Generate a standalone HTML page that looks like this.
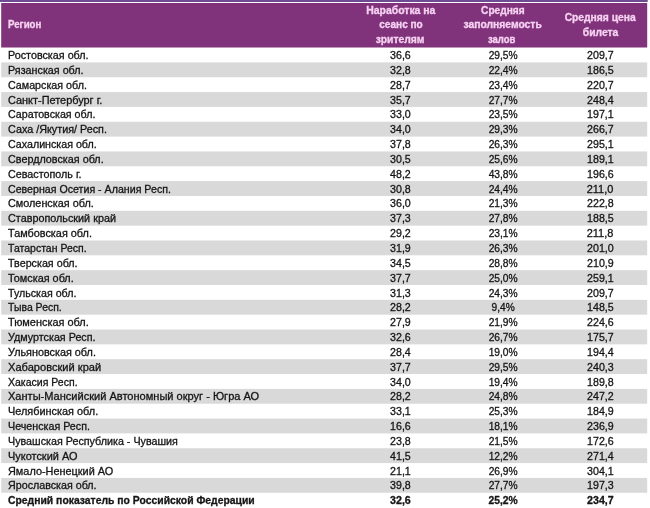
<!DOCTYPE html>
<html lang="ru"><head><meta charset="utf-8"><title>Таблица</title>
<style>
html,body{margin:0;padding:0;background:#fff;}
body{width:650px;height:508px;position:relative;overflow:hidden;font-family:"Liberation Sans",sans-serif;font-size:10.7px;line-height:14.84px;color:#151515;}
svg{position:absolute;left:0;top:0;}
span{position:absolute;white-space:pre;display:block;-webkit-text-stroke:0.3px currentColor;}
.h span{-webkit-text-stroke:0.3px currentColor;font-weight:bold;color:#f6d2f2;font-size:10.2px;}
.b span{font-weight:bold;}
div{filter:blur(0.35px);}
</style></head><body>
<svg width="650" height="508" viewBox="0 0 650 508" shape-rendering="geometricPrecision">
<rect x="0" y="0" width="647.7" height="2" fill="#6f4b93"/>
<rect x="1.2" y="3.0" width="646.0" height="44.5" fill="#80327b"/>
<rect x="1.2" y="62.40" width="646.0" height="14.84" fill="#d9d9d9"/>
<rect x="1.2" y="92.08" width="646.0" height="14.84" fill="#d9d9d9"/>
<rect x="1.2" y="121.76" width="646.0" height="14.84" fill="#d9d9d9"/>
<rect x="1.2" y="151.44" width="646.0" height="14.84" fill="#d9d9d9"/>
<rect x="1.2" y="181.12" width="646.0" height="14.84" fill="#d9d9d9"/>
<rect x="1.2" y="210.80" width="646.0" height="14.84" fill="#d9d9d9"/>
<rect x="1.2" y="240.48" width="646.0" height="14.84" fill="#d9d9d9"/>
<rect x="1.2" y="270.16" width="646.0" height="14.84" fill="#d9d9d9"/>
<rect x="1.2" y="299.84" width="646.0" height="14.84" fill="#d9d9d9"/>
<rect x="1.2" y="329.52" width="646.0" height="14.84" fill="#d9d9d9"/>
<rect x="1.2" y="359.20" width="646.0" height="14.84" fill="#d9d9d9"/>
<rect x="1.2" y="388.88" width="646.0" height="14.84" fill="#d9d9d9"/>
<rect x="1.2" y="418.56" width="646.0" height="14.84" fill="#d9d9d9"/>
<rect x="1.2" y="448.24" width="646.0" height="14.84" fill="#d9d9d9"/>
<rect x="1.2" y="477.92" width="646.0" height="14.84" fill="#d9d9d9"/>
</svg>
<div class="h">
<span style="top:18.39px;left:7.60px;transform:scaleX(0.9507);transform-origin:0 50%">Регион</span>
<span style="top:3.55px;left:366.77px;transform:scaleX(1.0254)">Наработка на</span>
<span style="top:18.39px;left:378.56px;transform:scaleX(0.9886)">сеанс по</span>
<span style="top:33.23px;left:376.49px;transform:scaleX(1.0145)">зрителям</span>
<span style="top:3.55px;left:480.60px;transform:scaleX(0.9951)">Средняя</span>
<span style="top:18.39px;left:463.84px;transform:scaleX(1.0132)">заполняемость</span>
<span style="top:33.23px;left:486.77px;transform:scaleX(0.9336)">залов</span>
<span style="top:10.97px;left:565.19px;transform:scaleX(1.0098)">Средняя цена</span>
<span style="top:25.81px;left:582.84px;transform:scaleX(1.0118)">билета</span>
</div>
<div>
<span style="top:48.06px;left:7.60px;transform:scaleX(1.0077);transform-origin:0 50%">Ростовская обл.</span>
<span style="top:48.06px;left:390.09px;transform:scaleX(0.9944)">36,6</span>
<span style="top:48.06px;left:487.63px;transform:scaleX(0.9583)">29,5%</span>
<span style="top:48.06px;left:586.91px;transform:scaleX(0.9949)">209,7</span>
</div>
<div>
<span style="top:62.90px;left:7.60px;transform:scaleX(1.0068);transform-origin:0 50%">Рязанская обл.</span>
<span style="top:62.90px;left:390.09px;transform:scaleX(0.9944)">32,8</span>
<span style="top:62.90px;left:487.63px;transform:scaleX(0.9583)">22,4%</span>
<span style="top:62.90px;left:586.91px;transform:scaleX(0.9949)">186,5</span>
</div>
<div>
<span style="top:77.74px;left:7.60px;transform:scaleX(1.0015);transform-origin:0 50%">Самарская обл.</span>
<span style="top:77.74px;left:390.09px;transform:scaleX(0.9944)">28,7</span>
<span style="top:77.74px;left:487.63px;transform:scaleX(0.9583)">23,4%</span>
<span style="top:77.74px;left:586.91px;transform:scaleX(0.9949)">220,7</span>
</div>
<div>
<span style="top:92.58px;left:7.60px;transform:scaleX(1.0212);transform-origin:0 50%">Санкт-Петербург г.</span>
<span style="top:92.58px;left:390.09px;transform:scaleX(0.9944)">35,7</span>
<span style="top:92.58px;left:487.63px;transform:scaleX(0.9583)">27,7%</span>
<span style="top:92.58px;left:586.91px;transform:scaleX(0.9949)">248,4</span>
</div>
<div>
<span style="top:107.42px;left:7.60px;transform:scaleX(0.9988);transform-origin:0 50%">Саратовская обл.</span>
<span style="top:107.42px;left:390.09px;transform:scaleX(0.9944)">33,0</span>
<span style="top:107.42px;left:487.63px;transform:scaleX(0.9583)">23,5%</span>
<span style="top:107.42px;left:586.91px;transform:scaleX(0.9949)">197,1</span>
</div>
<div>
<span style="top:122.26px;left:7.60px;transform:scaleX(1.0093);transform-origin:0 50%">Саха /Якутия/ Респ.</span>
<span style="top:122.26px;left:390.09px;transform:scaleX(0.9944)">34,0</span>
<span style="top:122.26px;left:487.63px;transform:scaleX(0.9583)">29,3%</span>
<span style="top:122.26px;left:586.91px;transform:scaleX(0.9949)">266,7</span>
</div>
<div>
<span style="top:137.10px;left:7.60px;transform:scaleX(0.9986);transform-origin:0 50%">Сахалинская обл.</span>
<span style="top:137.10px;left:390.09px;transform:scaleX(0.9944)">37,8</span>
<span style="top:137.10px;left:487.63px;transform:scaleX(0.9583)">26,3%</span>
<span style="top:137.10px;left:586.91px;transform:scaleX(0.9949)">295,1</span>
</div>
<div>
<span style="top:151.94px;left:7.60px;transform:scaleX(1.0095);transform-origin:0 50%">Свердловская обл.</span>
<span style="top:151.94px;left:390.09px;transform:scaleX(0.9944)">30,5</span>
<span style="top:151.94px;left:487.63px;transform:scaleX(0.9583)">25,6%</span>
<span style="top:151.94px;left:586.91px;transform:scaleX(0.9949)">189,1</span>
</div>
<div>
<span style="top:166.78px;left:7.60px;transform:scaleX(1.0063);transform-origin:0 50%">Севастополь г.</span>
<span style="top:166.78px;left:390.09px;transform:scaleX(0.9944)">48,2</span>
<span style="top:166.78px;left:487.63px;transform:scaleX(0.9583)">43,8%</span>
<span style="top:166.78px;left:586.91px;transform:scaleX(0.9949)">196,6</span>
</div>
<div>
<span style="top:181.62px;left:7.60px;transform:scaleX(0.9949);transform-origin:0 50%">Северная Осетия - Алания Респ.</span>
<span style="top:181.62px;left:390.09px;transform:scaleX(0.9944)">30,8</span>
<span style="top:181.62px;left:487.63px;transform:scaleX(0.9583)">24,4%</span>
<span style="top:181.62px;left:587.31px;transform:scaleX(1.0253)">211,0</span>
</div>
<div>
<span style="top:196.46px;left:7.60px;transform:scaleX(1.0132);transform-origin:0 50%">Смоленская обл.</span>
<span style="top:196.46px;left:390.09px;transform:scaleX(0.9944)">36,0</span>
<span style="top:196.46px;left:487.63px;transform:scaleX(0.9583)">21,3%</span>
<span style="top:196.46px;left:586.91px;transform:scaleX(0.9949)">222,8</span>
</div>
<div>
<span style="top:211.30px;left:7.60px;transform:scaleX(1.0109);transform-origin:0 50%">Ставропольский край</span>
<span style="top:211.30px;left:390.09px;transform:scaleX(0.9944)">37,3</span>
<span style="top:211.30px;left:487.63px;transform:scaleX(0.9583)">27,8%</span>
<span style="top:211.30px;left:586.91px;transform:scaleX(0.9949)">188,5</span>
</div>
<div>
<span style="top:226.14px;left:7.60px;transform:scaleX(1.0159);transform-origin:0 50%">Тамбовская обл.</span>
<span style="top:226.14px;left:390.09px;transform:scaleX(0.9944)">29,2</span>
<span style="top:226.14px;left:487.63px;transform:scaleX(0.9583)">23,1%</span>
<span style="top:226.14px;left:587.31px;transform:scaleX(1.0253)">211,8</span>
</div>
<div>
<span style="top:240.98px;left:7.60px;transform:scaleX(0.9824);transform-origin:0 50%">Татарстан Респ.</span>
<span style="top:240.98px;left:390.09px;transform:scaleX(0.9944)">31,9</span>
<span style="top:240.98px;left:487.63px;transform:scaleX(0.9583)">26,3%</span>
<span style="top:240.98px;left:586.91px;transform:scaleX(0.9949)">201,0</span>
</div>
<div>
<span style="top:255.82px;left:7.60px;transform:scaleX(1.0042);transform-origin:0 50%">Тверская обл.</span>
<span style="top:255.82px;left:390.09px;transform:scaleX(0.9944)">34,5</span>
<span style="top:255.82px;left:487.63px;transform:scaleX(0.9583)">28,8%</span>
<span style="top:255.82px;left:586.91px;transform:scaleX(0.9949)">210,9</span>
</div>
<div>
<span style="top:270.66px;left:7.60px;transform:scaleX(1.0152);transform-origin:0 50%">Томская обл.</span>
<span style="top:270.66px;left:390.09px;transform:scaleX(0.9944)">37,7</span>
<span style="top:270.66px;left:487.63px;transform:scaleX(0.9583)">25,0%</span>
<span style="top:270.66px;left:586.91px;transform:scaleX(0.9949)">259,1</span>
</div>
<div>
<span style="top:285.50px;left:7.60px;transform:scaleX(0.9978);transform-origin:0 50%">Тульская обл.</span>
<span style="top:285.50px;left:390.09px;transform:scaleX(0.9944)">31,3</span>
<span style="top:285.50px;left:487.63px;transform:scaleX(0.9583)">24,3%</span>
<span style="top:285.50px;left:586.91px;transform:scaleX(0.9949)">209,7</span>
</div>
<div>
<span style="top:300.34px;left:7.60px;transform:scaleX(0.9787);transform-origin:0 50%">Тыва Респ.</span>
<span style="top:300.34px;left:390.09px;transform:scaleX(0.9944)">28,2</span>
<span style="top:300.34px;left:490.61px;transform:scaleX(0.9489)">9,4%</span>
<span style="top:300.34px;left:586.91px;transform:scaleX(0.9949)">148,5</span>
</div>
<div>
<span style="top:315.18px;left:7.60px;transform:scaleX(1.0232);transform-origin:0 50%">Тюменская обл.</span>
<span style="top:315.18px;left:390.09px;transform:scaleX(0.9944)">27,9</span>
<span style="top:315.18px;left:487.63px;transform:scaleX(0.9583)">21,9%</span>
<span style="top:315.18px;left:586.91px;transform:scaleX(0.9949)">224,6</span>
</div>
<div>
<span style="top:330.02px;left:7.60px;transform:scaleX(1.0060);transform-origin:0 50%">Удмуртская Респ.</span>
<span style="top:330.02px;left:390.09px;transform:scaleX(0.9944)">32,6</span>
<span style="top:330.02px;left:487.63px;transform:scaleX(0.9583)">26,7%</span>
<span style="top:330.02px;left:586.91px;transform:scaleX(0.9949)">175,7</span>
</div>
<div>
<span style="top:344.86px;left:7.60px;transform:scaleX(1.0125);transform-origin:0 50%">Ульяновская обл.</span>
<span style="top:344.86px;left:390.09px;transform:scaleX(0.9944)">28,4</span>
<span style="top:344.86px;left:487.63px;transform:scaleX(0.9583)">19,0%</span>
<span style="top:344.86px;left:586.91px;transform:scaleX(0.9949)">194,4</span>
</div>
<div>
<span style="top:359.70px;left:7.60px;transform:scaleX(1.0374);transform-origin:0 50%">Хабаровский край</span>
<span style="top:359.70px;left:390.09px;transform:scaleX(0.9944)">37,7</span>
<span style="top:359.70px;left:487.63px;transform:scaleX(0.9583)">29,5%</span>
<span style="top:359.70px;left:586.91px;transform:scaleX(0.9949)">240,3</span>
</div>
<div>
<span style="top:374.54px;left:7.60px;transform:scaleX(0.9840);transform-origin:0 50%">Хакасия Респ.</span>
<span style="top:374.54px;left:390.09px;transform:scaleX(0.9944)">34,0</span>
<span style="top:374.54px;left:487.63px;transform:scaleX(0.9583)">19,4%</span>
<span style="top:374.54px;left:586.91px;transform:scaleX(0.9949)">189,8</span>
</div>
<div>
<span style="top:389.38px;left:7.60px;transform:scaleX(1.0331);transform-origin:0 50%">Ханты-Мансийский Автономный округ - Югра АО</span>
<span style="top:389.38px;left:390.09px;transform:scaleX(0.9944)">28,2</span>
<span style="top:389.38px;left:487.63px;transform:scaleX(0.9583)">24,8%</span>
<span style="top:389.38px;left:586.91px;transform:scaleX(0.9949)">247,2</span>
</div>
<div>
<span style="top:404.22px;left:7.60px;transform:scaleX(1.0190);transform-origin:0 50%">Челябинская обл.</span>
<span style="top:404.22px;left:390.09px;transform:scaleX(0.9944)">33,1</span>
<span style="top:404.22px;left:487.63px;transform:scaleX(0.9583)">25,3%</span>
<span style="top:404.22px;left:586.91px;transform:scaleX(0.9949)">184,9</span>
</div>
<div>
<span style="top:419.06px;left:7.60px;transform:scaleX(1.0018);transform-origin:0 50%">Чеченская Респ.</span>
<span style="top:419.06px;left:390.09px;transform:scaleX(0.9944)">16,6</span>
<span style="top:419.06px;left:487.63px;transform:scaleX(0.9583)">18,1%</span>
<span style="top:419.06px;left:586.91px;transform:scaleX(0.9949)">236,9</span>
</div>
<div>
<span style="top:433.90px;left:7.60px;transform:scaleX(1.0041);transform-origin:0 50%">Чувашская Республика - Чувашия</span>
<span style="top:433.90px;left:390.09px;transform:scaleX(0.9944)">23,8</span>
<span style="top:433.90px;left:487.63px;transform:scaleX(0.9583)">21,5%</span>
<span style="top:433.90px;left:586.91px;transform:scaleX(0.9949)">172,6</span>
</div>
<div>
<span style="top:448.74px;left:7.60px;transform:scaleX(1.0233);transform-origin:0 50%">Чукотский АО</span>
<span style="top:448.74px;left:390.09px;transform:scaleX(0.9944)">41,5</span>
<span style="top:448.74px;left:487.63px;transform:scaleX(0.9583)">12,2%</span>
<span style="top:448.74px;left:586.91px;transform:scaleX(0.9949)">271,4</span>
</div>
<div>
<span style="top:463.58px;left:7.60px;transform:scaleX(1.0188);transform-origin:0 50%">Ямало-Ненецкий АО</span>
<span style="top:463.58px;left:390.09px;transform:scaleX(0.9944)">21,1</span>
<span style="top:463.58px;left:487.63px;transform:scaleX(0.9583)">26,9%</span>
<span style="top:463.58px;left:586.91px;transform:scaleX(0.9949)">304,1</span>
</div>
<div>
<span style="top:478.42px;left:7.60px;transform:scaleX(1.0018);transform-origin:0 50%">Ярославская обл.</span>
<span style="top:478.42px;left:390.09px;transform:scaleX(0.9944)">39,8</span>
<span style="top:478.42px;left:487.63px;transform:scaleX(0.9583)">27,7%</span>
<span style="top:478.42px;left:586.91px;transform:scaleX(0.9949)">197,3</span>
</div>
<div class="b">
<span style="top:493.26px;left:7.60px;transform:scaleX(0.9713);transform-origin:0 50%">Средний показатель по Российской Федерации</span>
<span style="top:493.26px;left:390.09px;transform:scaleX(0.9991)">32,6</span>
<span style="top:493.26px;left:487.63px;transform:scaleX(0.9669)">25,2%</span>
<span style="top:493.26px;left:586.91px;transform:scaleX(0.9985)">234,7</span>
</div>
</body></html>
